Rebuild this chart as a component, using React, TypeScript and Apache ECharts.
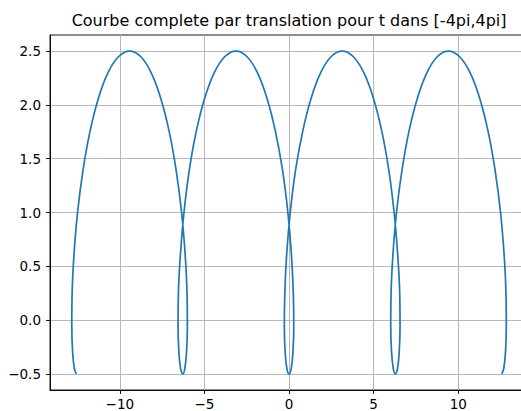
import React, { useEffect, useRef } from 'react';
import * as echarts from 'echarts';

// Points
const curveX = [
  -12.57, -12.69, -12.79, -12.84, -12.82, -12.71, -12.5, -12.18, -11.77, -11.27, -10.7, -10.07, -9.42,
  -8.77, -8.15, -7.58, -7.08, -6.67, -6.35, -6.14, -6.03, -6.01, -6.06, -6.16, -6.28,
  -6.41, -6.51, -6.56, -6.54, -6.42, -6.21, -5.9, -5.49, -4.99, -4.42, -3.79, -3.14,
  -2.49, -1.87, -1.3, -0.8, -0.38, -0.07, 0.14, 0.25, 0.28, 0.23, 0.13, 0,
  -0.13, -0.23, -0.28, -0.25, -0.14, 0.07, 0.38, 0.8, 1.3, 1.87, 2.49, 3.14,
  3.79, 4.42, 4.99, 5.49, 5.9, 6.21, 6.42, 6.54, 6.56, 6.51, 6.41, 6.28,
  6.16, 6.06, 6.01, 6.03, 6.14, 6.35, 6.67, 7.08, 7.58, 8.15, 8.77, 9.42,
  10.07, 10.7, 11.27, 11.77, 12.18, 12.5, 12.71, 12.82, 12.84, 12.79, 12.69, 12.57,
];
const curveY = [
  -0.5, -0.45, -0.3, -0.06, 0.25, 0.61, 1, 1.39, 1.75, 2.06, 2.3, 2.45, 2.5,
  2.45, 2.3, 2.06, 1.75, 1.39, 1, 0.61, 0.25, -0.06, -0.3, -0.45, -0.5,
  -0.45, -0.3, -0.06, 0.25, 0.61, 1, 1.39, 1.75, 2.06, 2.3, 2.45, 2.5,
  2.45, 2.3, 2.06, 1.75, 1.39, 1, 0.61, 0.25, -0.06, -0.3, -0.45, -0.5,
  -0.45, -0.3, -0.06, 0.25, 0.61, 1, 1.39, 1.75, 2.06, 2.3, 2.45, 2.5,
  2.45, 2.3, 2.06, 1.75, 1.39, 1, 0.61, 0.25, -0.06, -0.3, -0.45, -0.5,
  -0.45, -0.3, -0.06, 0.25, 0.61, 1, 1.39, 1.75, 2.06, 2.3, 2.45, 2.5,
  2.45, 2.3, 2.06, 1.75, 1.39, 1, 0.61, 0.25, -0.06, -0.3, -0.45, -0.5,
];
const xTicks = [-10, -5, 0, 5, 10];
const yTicks = [-0.5, 0, 0.5, 1, 1.5, 2, 2.5];
const titleText = 'Courbe complete par translation pour t dans [-4pi,4pi]';

const FONT = 'DejaVu Sans';
const minus = (s: string) => s.replace('-', '\u2212');

export default function App() {
  const ref = useRef<HTMLDivElement>(null);
  useEffect(() => {
    const chart = echarts.init(ref.current!, null, { renderer: 'svg' });
    const data = curveX.map((x, i) => [x, curveY[i]]);
    const axisCommon = {
      type: 'value',
      axisLine: { show: true, onZero: false, lineStyle: { color: '#000', width: 0.9 } },
      splitLine: { show: true, lineStyle: { color: '#b0b0b0', width: 0.9 } },
    };
    chart.setOption({
      animation: false,
      graphic: [
        {
          type: 'text',
          x: 289.1,
          y: 20.6,
          style: {
            text: titleText,
            fontFamily: FONT,
            fontSize: 16,
            fill: '#000',
            align: 'center',
            verticalAlign: 'middle',
          },
        },
      ],
      grid: {
        left: 50,
        top: 35,
        right: 0.9,
        bottom: 20.5,
        show: true,
        borderColor: '#000',
        borderWidth: 0.9,
        backgroundColor: 'transparent',
        containLabel: false,
      },
      xAxis: {
        ...axisCommon,
        min: -14.128,
        max: 14.128,
        axisTick: { show: true, inside: false, length: 4, customValues: xTicks, lineStyle: { color: '#000', width: 0.9 } },
        axisLabel: {
          customValues: xTicks,
          margin: 7,
          formatter: (v: number) => minus(String(v)),
          fontFamily: FONT,
          fontSize: 13.5,
          color: '#000',
        },
      },
      yAxis: {
        ...axisCommon,
        min: -0.65,
        max: 2.65,
        axisTick: { show: true, inside: false, length: 4, customValues: yTicks, lineStyle: { color: '#000', width: 0.9 } },
        axisLabel: {
          customValues: yTicks,
          margin: 9,
          formatter: (v: number) => minus(v.toFixed(1)),
          fontFamily: FONT,
          fontSize: 13.5,
          color: '#000',
        },
      },
      series: [
        {
          type: 'line',
          data,
          symbol: 'none',
          showSymbol: false,
          smooth: 0.4,
          lineStyle: { color: '#1f77b4', width: 1.7 },
        },
      ],
    });
    return () => chart.dispose();
  }, []);
  return (
    <div style={{ position: 'absolute', left: 0, top: 0, width: 521, height: 411, overflow: 'hidden' }}>
      <div ref={ref} style={{ width: 529, height: 411 }} />
    </div>
  );
}
